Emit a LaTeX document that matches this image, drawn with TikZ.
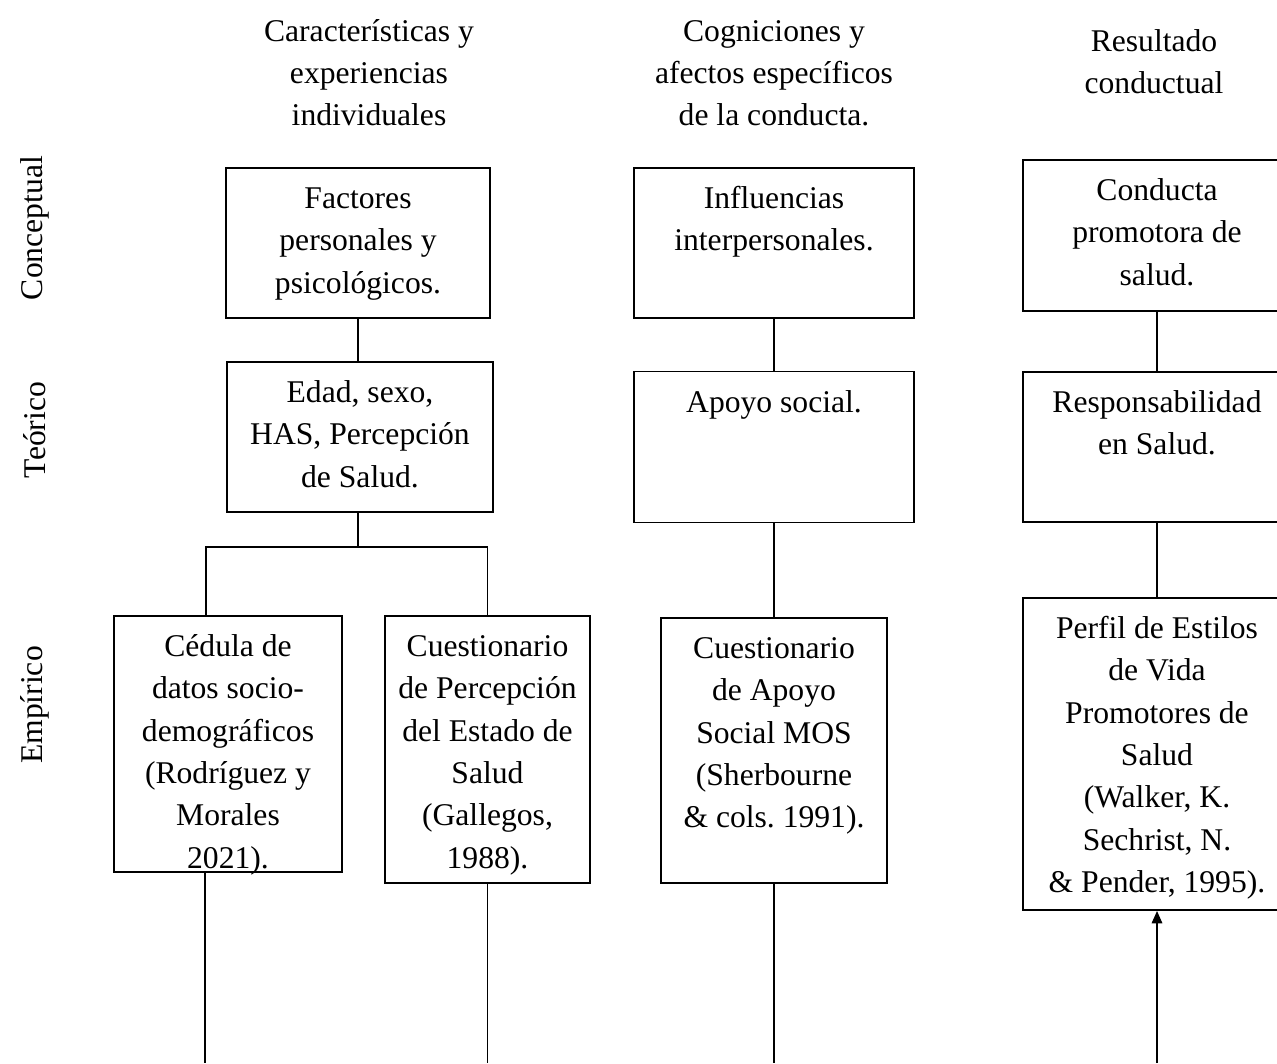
\documentclass[tikz,border=0pt]{standalone}
\usepackage{fontspec}
\setmainfont{Liberation Serif}
\usetikzlibrary{arrows.meta}
\frenchspacing

\tikzset{
  caja/.style={draw, line width=1.1pt, inner sep=0pt},
  txt/.style={anchor=base, align=flush center, inner sep=0pt, font=\fontsize{18}{24.1}\selectfont},
  enlace/.style={line width=0.8pt},
}

% box with its text set from the top
\newcommand{\caja}[6]{%
  \node[caja, minimum width=#4*0.02cm, minimum height=#5*0.02cm] (#1) at (#2,#3) {};
  \node[txt, text width=#4*0.02cm] (#1t) at ([yshift=-0.83cm]#1.north) {#6};
}

\begin{document}
\begin{tikzpicture}[x=0.02cm, y=-0.02cm]
  \useasboundingbox (0,0) rectangle (1277,1063);
  \clip (0,0) rectangle (1277,1063);

  % column headings
  \node[txt, text width=6cm] (h1) at (369,41) {Características y\\experiencias\\individuales};
  \node[txt, text width=6cm] (h2) at (774,41) {Cogniciones y\\afectos específicos\\de la conducta.};
  \node[txt, text width=6cm] (h3) at (1154,51) {Resultado\\conductual};

  % row labels
  \node[txt, rotate=90, anchor=center] (r1) at (35,228) {Conceptual};
  \node[txt, rotate=90, anchor=center] (r2) at (35,430) {Teórico};
  \node[txt, rotate=90, anchor=center] (r3) at (35,705) {Empírico};

  % boxes
  \caja{fac}{358}{243}{264}{150}{Factores\\personales y\\psicológicos.}
  \caja{eda}{360}{437}{266}{150}{Edad, sexo,\\HAS, Percepción\\de Salud.}
  \caja{inf}{774}{243}{280}{150}{Influencias\\interpersonales.}
  \caja{apo}{774}{447}{280}{151}{Apoyo social.}
  \caja{con}{1157}{235.5}{268}{151}{Conducta\\promotora de\\salud.}
  \caja{res}{1157}{447}{268}{150}{Responsabilidad\\en Salud.}
  \caja{ced}{228}{744}{228}{256}{Cédula de\\datos socio-\\demográficos\\(Rodríguez y\\Morales\\2021).}
  \caja{cpe}{487.5}{749.5}{205}{267}{Cuestionario\\de Percepción\\del Estado de\\Salud\\(Gallegos,\\1988).}
  \caja{cap}{774}{750.5}{226}{265}{Cuestionario\\de Apoyo\\Social MOS\\(Sherbourne\\\& cols. 1991).}
  \caja{per}{1157}{754}{268}{312}{Perfil de Estilos\\de Vida\\Promotores de\\Salud\\(Walker, K.\\Sechrist, N.\\\& Pender, 1995).}

  % connectors
  \coordinate (j0) at (358,547);
  \coordinate (j1) at (206,547);
  \coordinate (j2) at (487.5,547);
  \coordinate (b1) at (205,1063);
  \coordinate (b2) at (487.5,1063);
  \coordinate (b3) at (774,1063);
  \coordinate (b4) at (1157,1063);

  \draw[enlace] (fac.south) -- (fac.south |- eda.north);
  \draw[enlace] (j0 |- eda.south) -- (j0);
  \draw[enlace] (j1 |- ced.north) -- (j1) -- (j2) -- (cpe.north);
  \draw[enlace] (inf) -- (apo);
  \draw[enlace] (apo) -- (cap);
  \draw[enlace] (con) -- (res);
  \draw[enlace] (res) -- (per);
  \draw[enlace] (b1 |- ced.south) -- (b1);
  \draw[enlace] (cpe.south) -- (b2);
  \draw[enlace] (cap.south) -- (b3);
  \draw[enlace, -{Triangle[length=7pt, width=6pt]}] (b4) -- (per.south);
\end{tikzpicture}
\end{document}
